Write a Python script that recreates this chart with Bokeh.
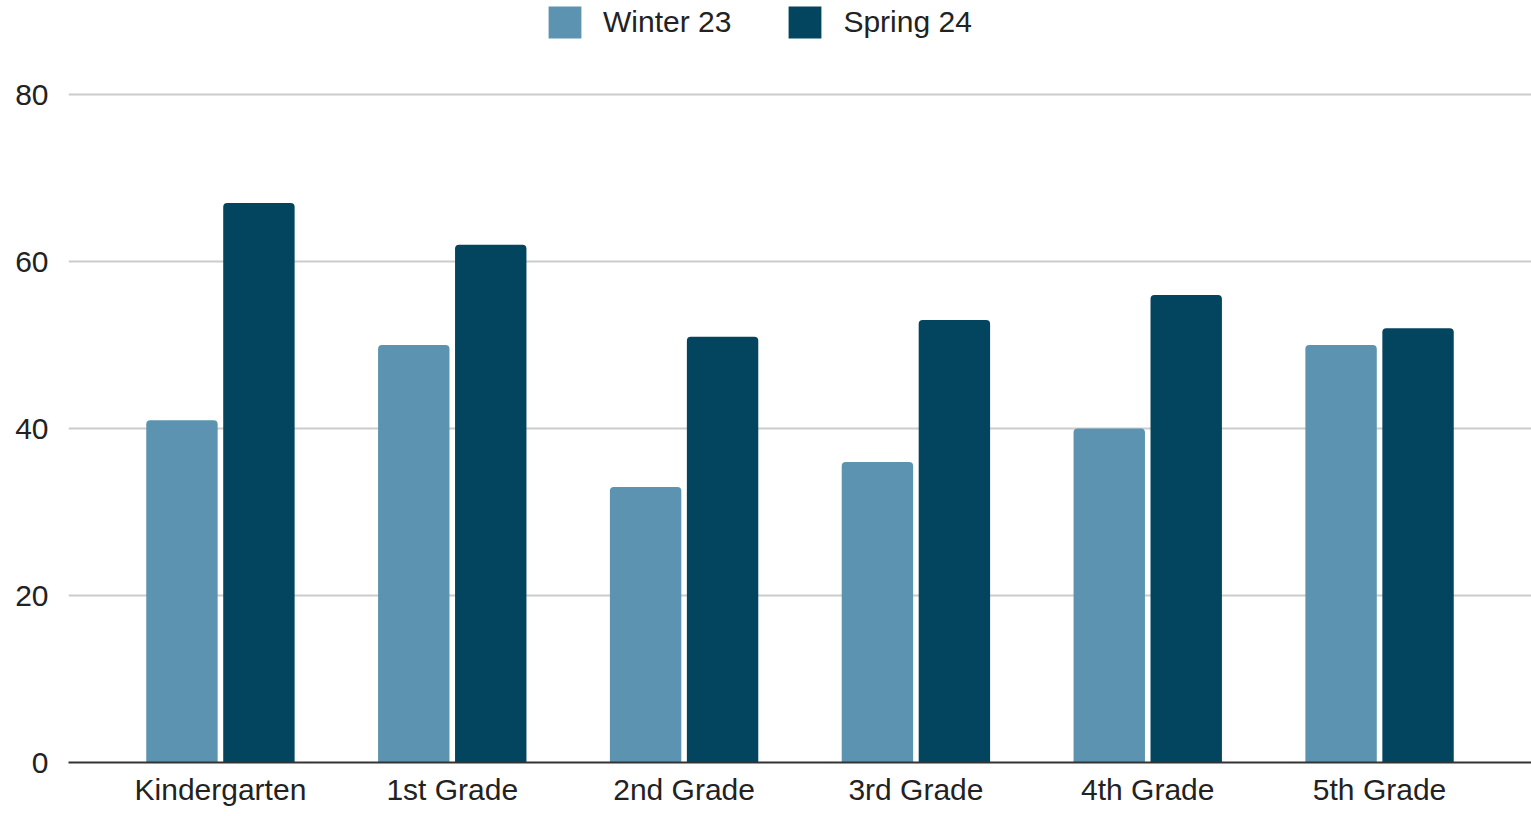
from bokeh.plotting import figure
from bokeh.models import ColumnDataSource, FactorRange, Range1d, FixedTicker, Legend, LegendItem
from bokeh.transform import dodge
from bokeh.embed import file_html
from bokeh.resources import INLINE

grades = ["Kindergarten", "1st Grade", "2nd Grade", "3rd Grade", "4th Grade", "5th Grade"]
winter_23 = [41, 50, 33, 36, 40, 50]
spring_24 = [67, 62, 51, 53, 56, 52]
series_names = ["Winter 23", "Spring 24"]
y_ticks = [0, 20, 40, 60, 80]

WINTER_COLOR = "#5b93b0"
SPRING_COLOR = "#03445f"
FONT = "Liberation Sans"

src = ColumnDataSource(dict(grade=grades, winter=winter_23, spring=spring_24))

# frame spans the full height above the axis; legend sits in the headroom above 80
p = figure(
    x_range=FactorRange(*grades, range_padding=0.0518),
    y_range=Range1d(0, 80 * 762 / 668),
    width=1531, height=816,
    output_backend="svg", toolbar_location=None,
    min_border_left=68, min_border_right=0, min_border_top=0, min_border_bottom=54,
)

r1 = p.vbar(x=dodge("grade", -0.166, range=p.x_range), top="winter", width=0.308,
            source=src, fill_color=WINTER_COLOR, line_color=None, border_radius=(4, 4, 0, 0))
r2 = p.vbar(x=dodge("grade", 0.166, range=p.x_range), top="spring", width=0.308,
            source=src, fill_color=SPRING_COLOR, line_color=None, border_radius=(4, 4, 0, 0))

legend = Legend(items=[LegendItem(label=series_names[0], renderers=[r1]),
                       LegendItem(label=series_names[1], renderers=[r2])],
                location=(476, 720), orientation="horizontal")
legend.border_line_color = None
legend.background_fill_alpha = 0
legend.padding = 0
legend.margin = 0
legend.glyph_width = 41
legend.glyph_height = 40
legend.label_height = 40
legend.label_standoff = 18
legend.spacing = 53
legend.label_text_font = FONT
legend.label_text_font_size = "30px"
legend.label_text_color = "#222222"
p.add_layout(legend, "center")

p.outline_line_color = None
p.xgrid.grid_line_color = None
p.ygrid.grid_line_color = "#cccccc"
p.ygrid.grid_line_width = 2
p.yaxis.ticker = FixedTicker(ticks=y_ticks)
p.yaxis.axis_line_color = None
p.yaxis.major_tick_line_color = None
p.yaxis.minor_tick_line_color = None
p.yaxis.major_tick_out = 0
p.yaxis.major_label_standoff = 20
p.yaxis.major_label_text_font = FONT
p.yaxis.major_label_text_font_size = "30px"
p.yaxis.major_label_text_color = "#222222"

p.xaxis.axis_line_color = "#333333"
p.xaxis.axis_line_width = 2
p.xaxis.major_tick_line_color = None
p.xaxis.minor_tick_line_color = None
p.xaxis.major_tick_out = 0
p.xaxis.major_label_standoff = 10
p.xaxis.major_label_text_font = FONT
p.xaxis.major_label_text_font_size = "30px"
p.xaxis.major_label_text_color = "#222222"

open("out.html", "w").write(file_html(p, INLINE))
